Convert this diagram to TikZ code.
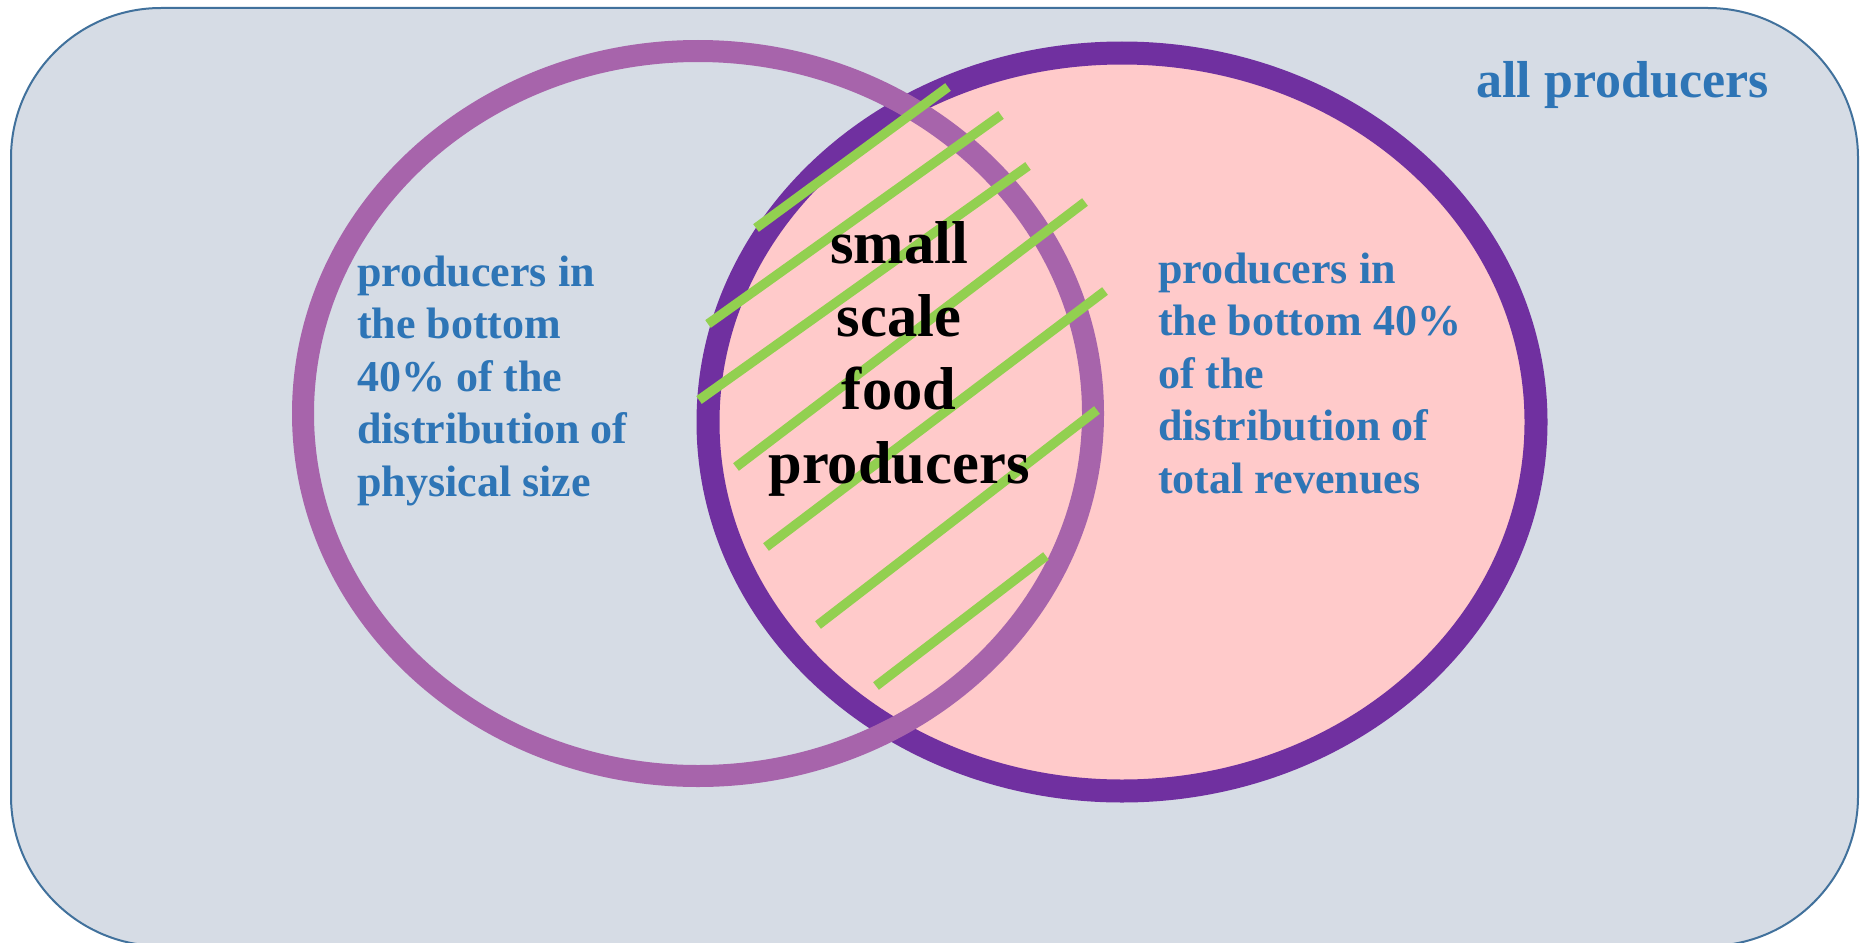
\documentclass[tikz,border=0pt]{standalone}
\usepackage{fontspec}
\setmainfont{Liberation Serif}
\definecolor{panelfill}{HTML}{D6DCE5}
\definecolor{panelline}{HTML}{41719C}
\definecolor{sizering}{HTML}{A764AB}
\definecolor{revring}{HTML}{7030A0}
\definecolor{revfill}{HTML}{FFCACA}
\definecolor{hatch}{HTML}{92D050}
\definecolor{labelblue}{HTML}{2E75B6}
\tikzset{
  hatchline/.style={draw=hatch, line width=9.5pt},
  % multi-line labels are placed by the baseline of their last line
  sidelabel/.style={inner sep=0pt, anchor=base west, align=left, text=labelblue,
    font=\bfseries\fontsize{44}{52.5}\selectfont},
}
\begin{document}
\begin{tikzpicture}[x=1pt, y=-1pt]
\useasboundingbox (0,0) rectangle (1862,942);
% outer panel
\begin{scope}
\clip (0,0) rectangle (1862,942);
\draw[panelline, fill=panelfill, line width=2pt, rounded corners=150pt]
  (11,8) rectangle (1858,946);
\end{scope}
% revenue set
\draw[revring, fill=revfill, line width=23pt] (1122,422) ellipse [x radius=414, y radius=369];
% physical size set
\draw[sizering, line width=22pt] (698,413.5) ellipse [x radius=395, y radius=362.5];
% hatching of the overlap
\coordinate (h1a) at (756,228); \coordinate (h1b) at (948,87);
\coordinate (h2a) at (708,324); \coordinate (h2b) at (1001,115);
\coordinate (h3a) at (699,400); \coordinate (h3b) at (1028,166);
\coordinate (h4a) at (736,467); \coordinate (h4b) at (1085,202);
\coordinate (h5a) at (766,547); \coordinate (h5b) at (1105,291);
\coordinate (h6a) at (818,625); \coordinate (h6b) at (1097,410);
\coordinate (h7a) at (876,686); \coordinate (h7b) at (1046,556);
\foreach \i in {1,...,7} { \draw[hatchline] (h\i a) -- (h\i b); }
% labels
\node[inner sep=0pt, anchor=base west, text=labelblue, font=\bfseries\fontsize{52}{62}\selectfont]
  (all) at (1476,97) {all producers};
\node[sidelabel] (size) at (357,496) {producers in\\the bottom\\40\% of the\\distribution of\\physical size};
\node[sidelabel] (rev) at (1158,493) {producers in\\the bottom 40\%\\of the\\distribution of\\total revenues};
\node[inner sep=0pt, anchor=base, align=center, text=black,
  font=\bfseries\fontsize{60.5}{73.3}\selectfont]
  (small) at (899,483) {small\\scale\\food\\producers};
\end{tikzpicture}
\end{document}
